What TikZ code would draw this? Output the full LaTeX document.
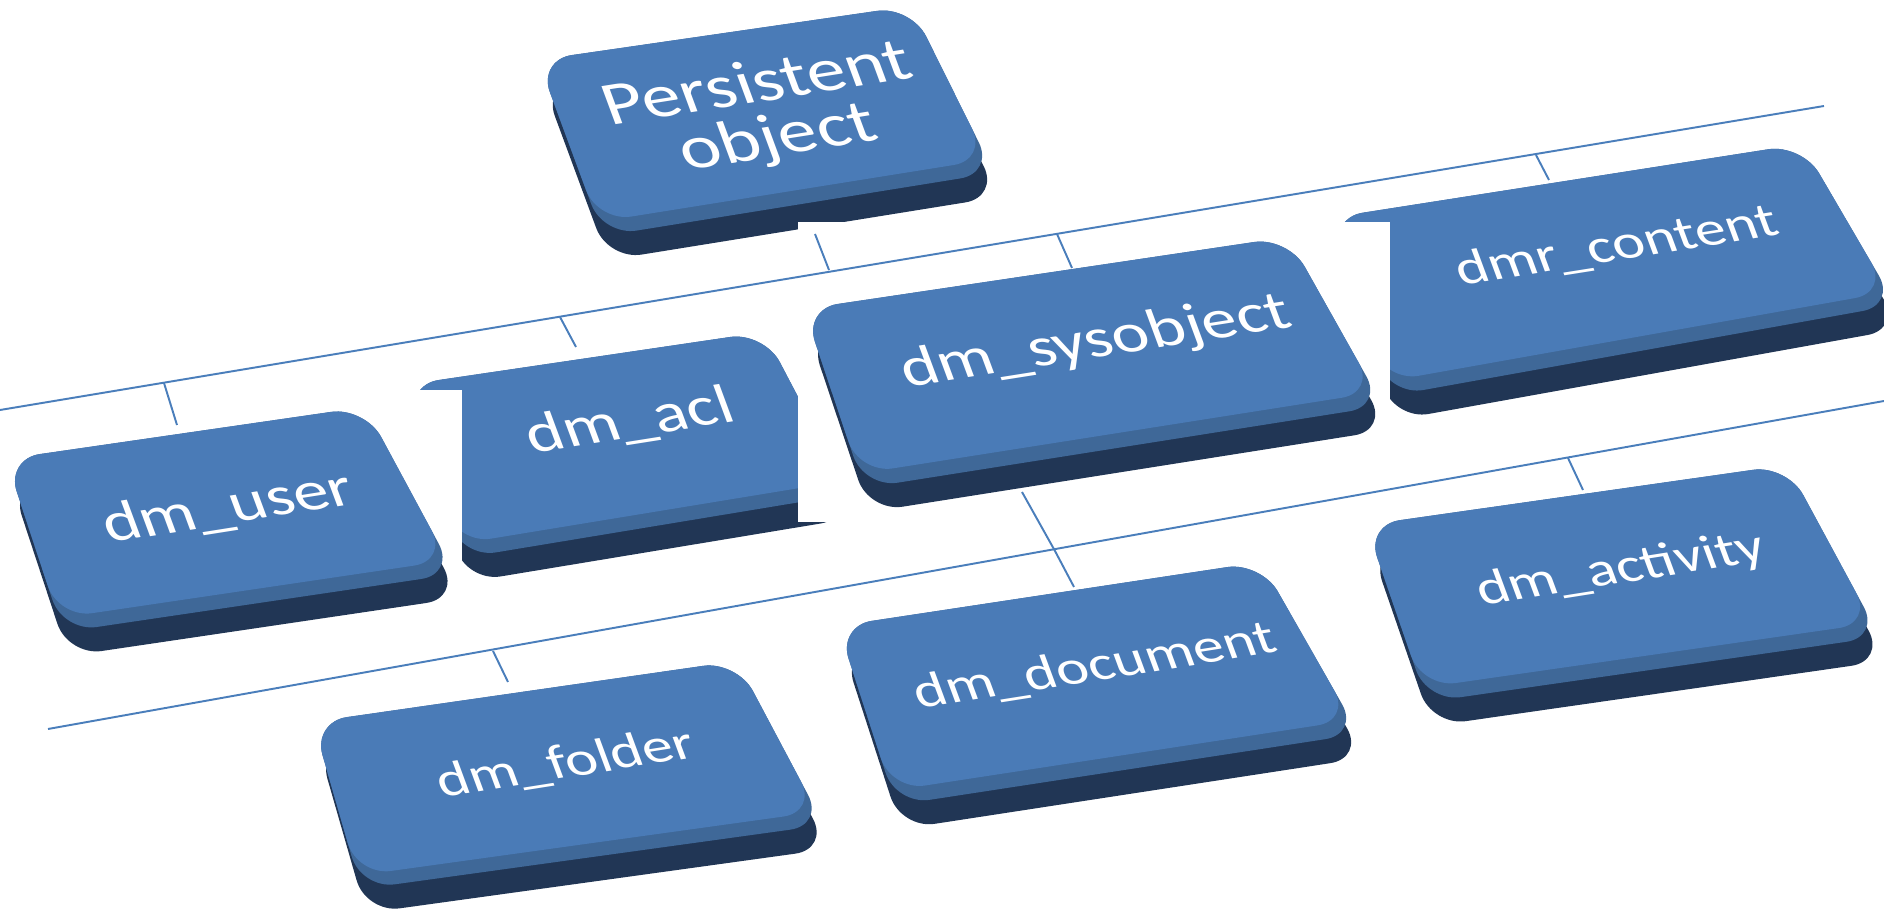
\documentclass[tikz,border=0pt]{standalone}
\usepackage{fontspec}
\setmainfont{Carlito}
\usetikzlibrary{calc}

\definecolor{slabtop}{HTML}{4A7BB7}
\definecolor{slabrim}{HTML}{3F6898}
\definecolor{slabside}{HTML}{213655}
\definecolor{busline}{HTML}{4A7EBB}

\tikzset{
  slab side/.style={fill=slabside, rounded corners=0.34cm},
  slab rim/.style={fill=slabrim, rounded corners=0.34cm},
  slab top/.style={fill=slabtop, rounded corners=0.34cm},
  cutout/.style={fill=white},
  bus/.style={draw=busline, line width=0.55pt},
  tag/.style={text=white, font=\fontsize{17.4}{20}\selectfont, rotate=9, xslant=-0.2, yscale=0.8, inner sep=0pt},
  wide tag/.style={font=\fontsize{20}{22}\selectfont},
  big tag/.style={font=\fontsize{22}{20}\selectfont, align=center}
}

\newcommand{\slab}[4]{%
  \fill[slab side, shift={(5,24)}] (#1) -- (#2) -- (#3) -- (#4) -- cycle;
  \fill[slab rim] (#1) -- (#2) -- (#3) -- (#4) -- cycle;
  \fill[slab top] (#1) -- (#2) -- ($(#2)!0.92!(#3)$) -- ($(#1)!0.92!(#4)$) -- cycle;
}

\begin{document}
\begin{tikzpicture}[x=0.01cm, y=-0.01cm]
  \useasboundingbox (0,0) rectangle (1884,922);

  % buses and ticks
  \coordinate (bus1 w) at (0,410);
  \coordinate (bus1 e) at (1824,106);
  \coordinate (bus2 w) at (48,729);
  \coordinate (bus2 e) at (1884,401);
  \coordinate (po foot) at (815,234);
  \coordinate (po join) at (829,270);
  \coordinate (user join) at (164,383);
  \coordinate (user head) at (177,425);
  \coordinate (acl join) at (560,317);
  \coordinate (acl head) at (576,347);
  \coordinate (sys join) at (1057,234);
  \coordinate (sys head) at (1072,268);
  \coordinate (content join) at (1536,155);
  \coordinate (content head) at (1549,180);
  \coordinate (sys foot) at (1022,492);
  \coordinate (doc join) at (1055,551);
  \coordinate (doc head) at (1074,587);
  \coordinate (folder join) at (493,651);
  \coordinate (folder head) at (508,682);
  \coordinate (act join) at (1568,458);
  \coordinate (act head) at (1583,490);

  \draw[bus] (bus1 w) -- (bus1 e);
  \draw[bus] (bus2 w) -- (bus2 e);
  \draw[bus] (po foot) -- (po join);
  \draw[bus] (user join) -- (user head);
  \draw[bus] (acl join) -- (acl head);
  \draw[bus] (sys join) -- (sys head);
  \draw[bus] (content join) -- (content head);
  \draw[bus] (sys foot) -- (doc join) -- (doc head);
  \draw[bus] (folder join) -- (folder head);
  \draw[bus] (act join) -- (act head);

  % slabs, back to front
  \slab{538,60}{911,6}{994,173}{603,236}
  \fill[cutout] (798,222) rectangle (880,233);
  \node[tag, big tag] (persistent) at (768,113) {Persistent\\object};

  \slab{405,385}{764,332}{849,494}{462,558}
  \node[tag, wide tag] (acl) at (630,422) {dm\_acl};
  \fill[cutout] (400,390) rectangle (462,600);
  \fill[cutout] (798,330) rectangle (850,522);

  \slab{6,459}{365,407}{455,574}{63,632}
  \node[tag, wide tag] (user) at (228,508) {dm\_user};

  \slab{1329,218}{1802,144}{1896,305}{1390,396}
  \node[tag] (content) at (1617,247) {dmr\_content};
  \fill[cutout] (1328,222) rectangle (1390,425);

  \slab{804,309}{1288,237}{1383,406}{864,488}
  \node[tag, wide tag] (sysobject) at (1096,343) {dm\_sysobject};

  \slab{313,722}{737,661}{824,825}{361,889}
  \node[tag] (folder) at (566,764) {dm\_folder};

  \slab{838,626}{1261,562}{1359,734}{896,805}
  \node[tag] (document) at (1095,667) {dm\_document};

  \slab{1366,525}{1787,465}{1880,637}{1427,702}
  \node[tag] (activity) at (1621,570) {dm\_activity};
\end{tikzpicture}
\end{document}
